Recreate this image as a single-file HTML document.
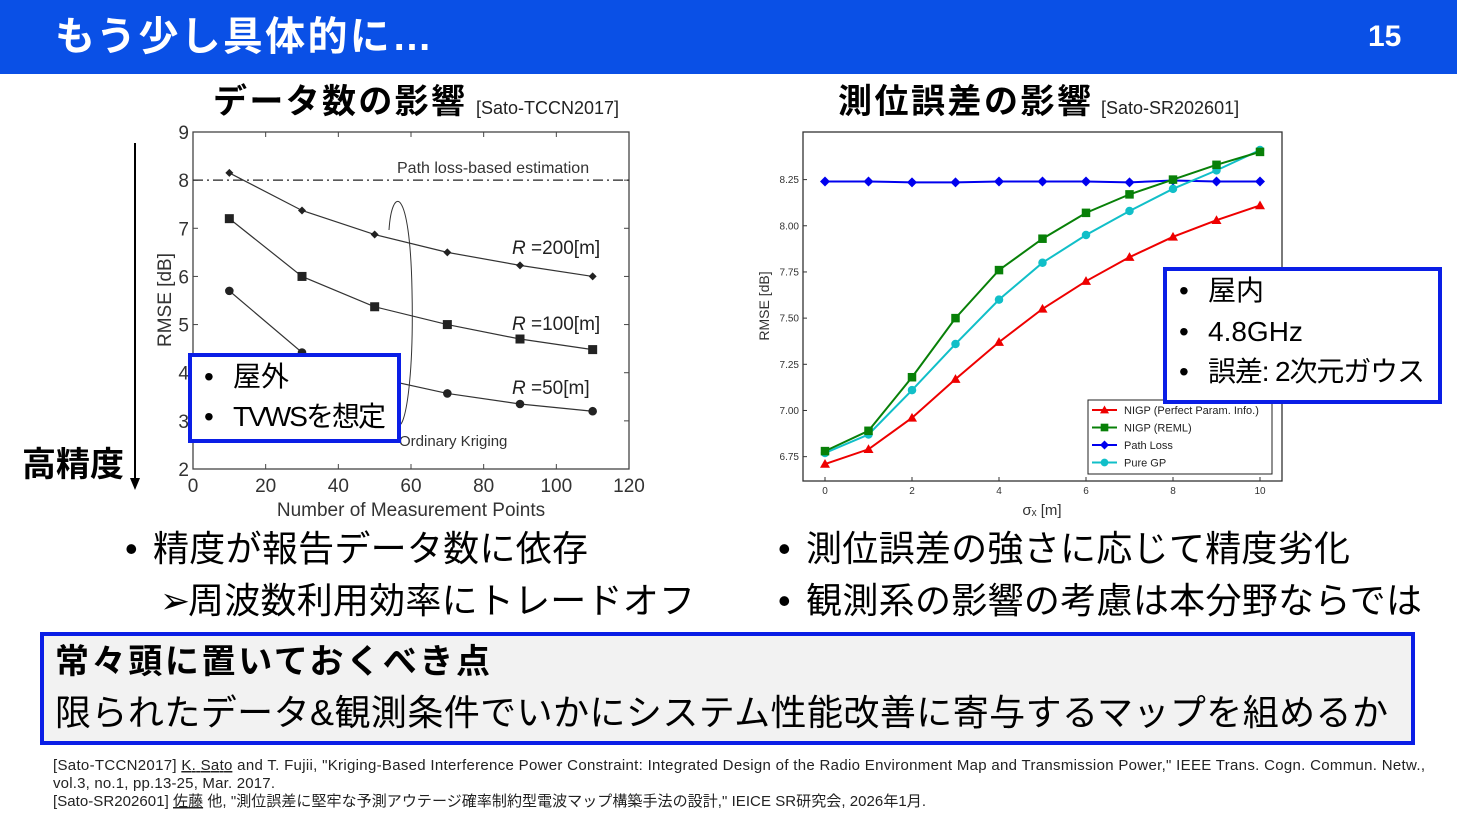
<!DOCTYPE html>
<html><head><meta charset="utf-8"><style>
body{margin:0;width:1457px;height:822px;overflow:hidden;background:#fff;font-family:"Liberation Sans","Noto Sans CJK JP",sans-serif}
svg text{font-family:"Liberation Sans","Noto Sans CJK JP",sans-serif}
</style></head><body>
<svg id="s" width="1457" height="822" xmlns="http://www.w3.org/2000/svg">
<rect x="0" y="0" width="1457" height="74" fill="#0a50e6"/>
<text x="55" y="50" font-size="40" font-weight="bold" fill="#fff" textLength="377">もう少し具体的に…</text>
<text x="1368" y="46" font-size="30" font-weight="bold" fill="#fff">15</text>

<text x="213" y="113" font-size="34" font-weight="bold" textLength="252">データ数の影響</text>
<text x="476" y="114" font-size="18" fill="#222">[Sato-TCCN2017]</text>
<text x="838" y="113" font-size="34" font-weight="bold" textLength="253">測位誤差の影響</text>
<text x="1101" y="114" font-size="18" fill="#222">[Sato-SR202601]</text>

<g id="left"></g>
<g id="right"></g>

<text x="22" y="476" font-size="34" font-weight="bold">高精度</text>
<line x1="135" y1="143" x2="135" y2="480" stroke="#000" stroke-width="2"/>
<path d="M130,478 L135,490 L140,478 Z" fill="#000"/>

<rect x="190" y="355" width="209" height="86" fill="#fff" stroke="#0a1ee6" stroke-width="4"/>
<text x="204" y="386" font-size="28">•<tspan x="233">屋外</tspan></text>
<text x="204" y="426" font-size="28">•<tspan x="233" textLength="153">TVWSを想定</tspan></text>

<rect x="1165" y="269" width="275" height="133" fill="#fff" stroke="#0a1ee6" stroke-width="4"/>
<text x="1179" y="300" font-size="28">•<tspan x="1208">屋内</tspan></text>
<text x="1179" y="341" font-size="28">•<tspan x="1208">4.8GHz</tspan></text>
<text x="1179" y="381" font-size="28">•<tspan x="1208" textLength="217">誤差: 2次元ガウス</tspan></text>

<text x="125" y="561" font-size="36">• <tspan x="153" textLength="435">精度が報告データ数に依存</tspan></text>
<text x="160" y="613" font-size="36">➢<tspan x="188" textLength="507">周波数利用効率にトレードオフ</tspan></text>
<text x="778" y="561" font-size="36">• <tspan x="806" textLength="544">測位誤差の強さに応じて精度劣化</tspan></text>
<text x="778" y="613" font-size="36">• <tspan x="806" textLength="616">観測系の影響の考慮は本分野ならでは</tspan></text>

<rect x="42" y="634" width="1371" height="109" fill="#f2f2f2" stroke="#0a1ee6" stroke-width="4"/>
<text x="55" y="673" font-size="34" font-weight="bold" textLength="435">常々頭に置いておくべき点</text>
<text x="55" y="725" font-size="36" textLength="1333">限られたデータ&amp;観測条件でいかにシステム性能改善に寄与するマップを組めるか</text>

<g font-size="15" fill="#222">
<text x="53" y="770" textLength="1372">[Sato-TCCN2017] <tspan text-decoration="underline">K. Sato</tspan> and T. Fujii, "Kriging-Based Interference Power Constraint: Integrated Design of the Radio Environment Map and Transmission Power," IEEE Trans. Cogn. Commun. Netw.,</text>
<text x="53" y="788" textLength="222">vol.3, no.1, pp.13-25, Mar. 2017.</text>
<text x="53" y="806" textLength="873">[Sato-SR202601] <tspan text-decoration="underline">佐藤</tspan> 他, "測位誤差に堅牢な予測アウテージ確率制約型電波マップ構築手法の設計," IEICE SR研究会, 2026年1月.</text>
</g>
</svg>
<script>
// ---- left chart data ----
const leftX = [10, 30, 50, 70, 90, 110];
const r200 = [8.15, 7.37, 6.87, 6.50, 6.23, 6.00];
const r100 = [7.20, 6.00, 5.37, 5.00, 4.70, 4.48];
const r50 = [5.70, 4.42, 3.90, 3.57, 3.35, 3.20];
const leftXTicks = [0, 20, 40, 60, 80, 100, 120];
const leftYTicks = [2, 3, 4, 5, 6, 7, 8, 9];
const pathLossLevel = 8;
// ---- right chart data ----
const rightX = [0, 1, 2, 3, 4, 5, 6, 7, 8, 9, 10];
const nigpPerfect = [6.71, 6.79, 6.96, 7.17, 7.37, 7.55, 7.70, 7.83, 7.94, 8.03, 8.11];
const nigpReml = [6.78, 6.89, 7.18, 7.50, 7.76, 7.93, 8.07, 8.17, 8.25, 8.33, 8.40];
const pathLoss = [8.24, 8.24, 8.235, 8.235, 8.24, 8.24, 8.24, 8.235, 8.245, 8.24, 8.24];
const pureGP = [6.77, 6.87, 7.11, 7.36, 7.60, 7.80, 7.95, 8.08, 8.20, 8.30, 8.41];
const rightXTicks = [0, 2, 4, 6, 8, 10];
const rightYTicks = [6.75, 7.00, 7.25, 7.50, 7.75, 8.00, 8.25];

const NS = "http://www.w3.org/2000/svg";
function mk(parent, tag, attrs, txt) {
  const e = document.createElementNS(NS, tag);
  for (const k in attrs) e.setAttribute(k, attrs[k]);
  if (txt !== undefined) e.textContent = txt;
  parent.appendChild(e);
  return e;
}

// LEFT
const L = document.getElementById('left');
const lx = v => 193 + (v - 0) / 120 * 436;
const ly = v => 469 - (v - 2) / 7 * 337;
let e = mk(L, 'rect', {x: 193, y: 132, width: 436, height: 337, fill: 'none', stroke: '#444', 'stroke-width': 1.3});


leftXTicks.forEach(t => {
  mk(L, 'line', {x1: lx(t), y1: 469, x2: lx(t), y2: 464, stroke: '#444'});
  mk(L, 'line', {x1: lx(t), y1: 132, x2: lx(t), y2: 137, stroke: '#444'});
  const tx = mk(L, 'text', {x: lx(t), y: 492, 'font-size': 19, 'text-anchor': 'middle', fill: '#333'}, t);
  
  
});
leftYTicks.forEach(t => {
  mk(L, 'line', {x1: 193, y1: ly(t), x2: 198, y2: ly(t), stroke: '#444'});
  mk(L, 'line', {x1: 629, y1: ly(t), x2: 624, y2: ly(t), stroke: '#444'});
  const tx = mk(L, 'text', {x: 189, y: ly(t) + 7, 'font-size': 19, 'text-anchor': 'end', fill: '#333'}, t);
  
  
});
e = mk(L, 'text', {x: 411, y: 516, 'font-size': 19, 'text-anchor': 'middle', fill: '#333'}, 'Number of Measurement Points');


e = mk(L, 'text', {x: 171, y: 300, 'font-size': 19, 'text-anchor': 'middle', fill: '#333', transform: 'rotate(-90 171 300)'}, 'RMSE [dB]');


e = mk(L, 'line', {x1: 193, y1: ly(pathLossLevel), x2: 629, y2: ly(pathLossLevel), stroke: '#222', 'stroke-width': 1.3, 'stroke-dasharray': '10 4 2 4'});


e = mk(L, 'text', {x: 397, y: 173, 'font-size': 16, fill: '#333'}, 'Path loss-based estimation');


e = mk(L, 'text', {x: 399, y: 446, 'font-size': 15, fill: '#333'}, 'Ordinary Kriging');


e = mk(L, 'path', {d: 'M389,230 C392,185 410,185 412,290 C414,380 405,430 398,425', fill: 'none', stroke: '#333', 'stroke-width': 1});


function leftSeries(vals, marker, name, label, labelY) {
  const g = mk(L, 'g', {});
  
  
  mk(g, 'polyline', {points: leftX.map((x, i) => lx(x) + ',' + ly(vals[i])).join(' '), fill: 'none', stroke: '#333', 'stroke-width': 1.2});
  leftX.forEach((x, i) => {
    const cx = lx(x), cy = ly(vals[i]);
    if (marker === 'd') mk(g, 'path', {d: `M${cx},${cy-4}L${cx+4},${cy}L${cx},${cy+4}L${cx-4},${cy}Z`, fill: '#222'});
    else if (marker === 's') mk(g, 'rect', {x: cx-4.5, y: cy-4.5, width: 9, height: 9, fill: '#222'});
    else mk(g, 'circle', {cx, cy, r: 4.3, fill: '#222'});
  });
  const t = mk(g, 'text', {x: 512, y: labelY, 'font-size': 19, fill: '#222', 'font-family': 'Liberation Serif, serif'});
  mk(t, 'tspan', {'font-style': 'italic'}, 'R');
  mk(t, 'tspan', {}, ' =' + label + '[m]');
}
leftSeries(r200, 'd', 'series-r200', '200', 254);
leftSeries(r100, 's', 'series-r100', '100', 330);
leftSeries(r50, 'o', 'series-r50', '50', 394);

// RIGHT
const R = document.getElementById('right');
const rx = v => 825 + v * 43.5;
const ry = v => 179.6 + (8.25 - v) * 184.7;
e = mk(R, 'rect', {x: 803, y: 132, width: 479, height: 349, fill: 'none', stroke: '#333', 'stroke-width': 1.3});


rightXTicks.forEach(t => {
  mk(R, 'line', {x1: rx(t), y1: 481, x2: rx(t), y2: 477, stroke: '#333'});
  const tx = mk(R, 'text', {x: rx(t), y: 494, 'font-size': 10, 'text-anchor': 'middle', fill: '#333', 'font-family': 'Liberation Serif, serif'}, t);
  
  
});
rightYTicks.forEach(t => {
  mk(R, 'line', {x1: 803, y1: ry(t), x2: 807, y2: ry(t), stroke: '#333'});
  const tx = mk(R, 'text', {x: 799, y: ry(t) + 3.5, 'font-size': 10, 'text-anchor': 'end', fill: '#333', 'font-family': 'Liberation Serif, serif'}, t.toFixed(2));
  
  
});
e = mk(R, 'text', {x: 1042, y: 515, 'font-size': 15, 'text-anchor': 'middle', fill: '#333'}, 'σₓ [m]');


e = mk(R, 'text', {x: 769, y: 306, 'font-size': 14, 'text-anchor': 'middle', fill: '#333', transform: 'rotate(-90 769 306)'}, 'RMSE [dB]');


function marker(g, type, cx, cy, col, r) {
  if (type === 'tri') mk(g, 'path', {d: `M${cx},${cy-r}L${cx+r},${cy+r*0.75}L${cx-r},${cy+r*0.75}Z`, fill: col});
  else if (type === 'sq') mk(g, 'rect', {x: cx-r*0.85, y: cy-r*0.85, width: r*1.7, height: r*1.7, fill: col});
  else if (type === 'dia') mk(g, 'path', {d: `M${cx},${cy-r}L${cx+r},${cy}L${cx},${cy+r}L${cx-r},${cy}Z`, fill: col});
  else mk(g, 'circle', {cx, cy, r: r*0.85, fill: col});
}
function rightSeries(vals, col, type, name) {
  const g = mk(R, 'g', {});
  
  
  mk(g, 'polyline', {points: rightX.map((x, i) => rx(x) + ',' + ry(vals[i])).join(' '), fill: 'none', stroke: col, 'stroke-width': 2});
  rightX.forEach((x, i) => marker(g, type, rx(x), ry(vals[i]), col, 5));
}
rightSeries(pathLoss, '#0000ee', 'dia', 'series-path-loss');
rightSeries(nigpPerfect, '#ee0000', 'tri', 'series-nigp-perfect');
rightSeries(pureGP, '#11bfc8', 'circ', 'series-pure-gp');
rightSeries(nigpReml, '#088008', 'sq', 'series-nigp-reml');
// legend
const lg = mk(R, 'g', {});


mk(lg, 'rect', {x: 1088, y: 400, width: 184, height: 74, fill: '#fff', stroke: '#222', 'stroke-width': 1});
const legNames = ['NIGP (Perfect Param. Info.)', 'NIGP (REML)', 'Path Loss', 'Pure GP'];
const legCols = ['#ee0000', '#088008', '#0000ee', '#11bfc8'];
const legTypes = ['tri', 'sq', 'dia', 'circ'];
legNames.forEach((n, i) => {
  const y = 410 + i * 17.5;
  const it = mk(lg, 'g', {});
  
  
  mk(it, 'line', {x1: 1092, y1: y, x2: 1117, y2: y, stroke: legCols[i], 'stroke-width': 2});
  marker(it, legTypes[i], 1104.5, y, legCols[i], 4.5);
  mk(it, 'text', {x: 1124, y: y + 4, 'font-size': 11, fill: '#222'}, n);
});
</script>
</body></html>
